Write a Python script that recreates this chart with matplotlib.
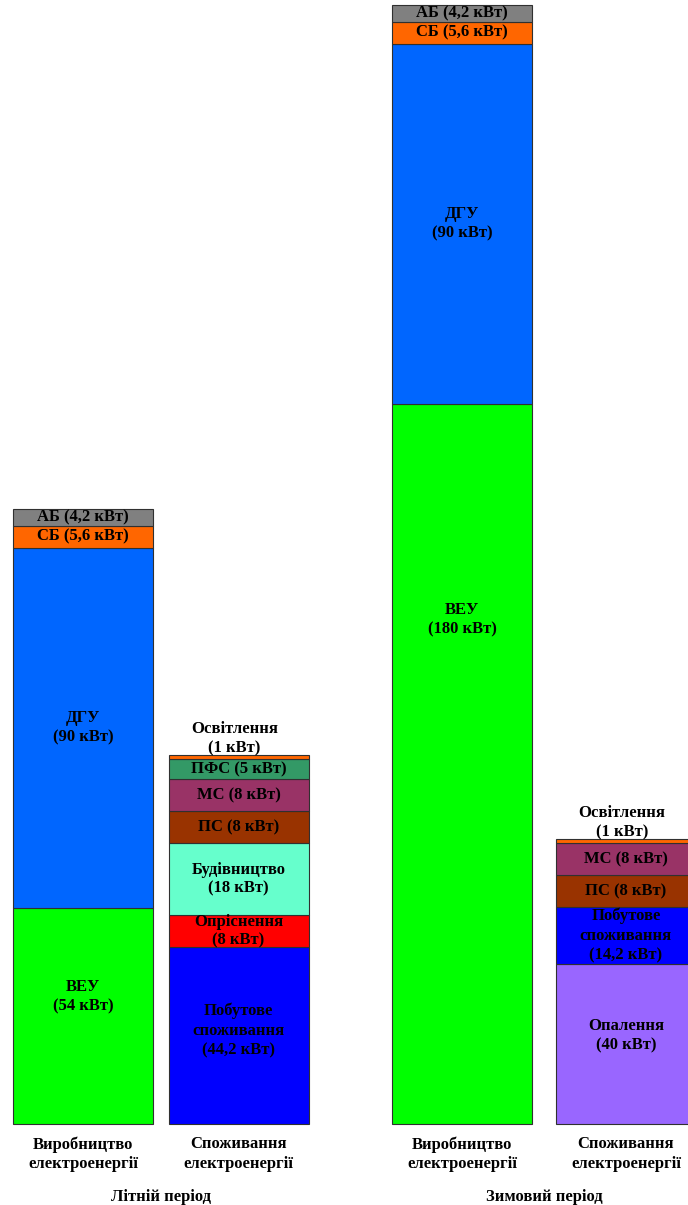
import matplotlib.pyplot as plt

plt.rcParams['font.family'] = ['Liberation Serif', 'DejaVu Serif']

# summer production (kW), bottom to top
summer_prod_names = ['ВЕУ', 'ДГУ', 'СБ', 'АБ']
summer_prod_vals = [54, 90, 5.6, 4.2]
summer_prod_labels = ['ВЕУ\n(54 кВт)', 'ДГУ\n(90 кВт)', 'СБ (5,6 кВт)', 'АБ (4,2 кВт)']

# summer consumption
summer_cons_names = ['Побутове', 'Опріснення', 'Будівництво', 'ПС', 'МС', 'ПФС', 'Освітлення']
summer_cons_vals = [44.2, 8, 18, 8, 8, 5, 1]
summer_cons_labels = ['Побутове\nспоживання\n(44,2 кВт)', 'Опріснення\n(8 кВт)',
                      'Будівництво\n(18 кВт)', 'ПС (8 кВт)', 'МС (8 кВт)',
                      'ПФС (5 кВт)', 'Освітлення\n(1 кВт)']

# winter production
winter_prod_names = ['ВЕУ', 'ДГУ', 'СБ', 'АБ']
winter_prod_vals = [180, 90, 5.6, 4.2]
winter_prod_labels = ['ВЕУ\n(180 кВт)', 'ДГУ\n(90 кВт)', 'СБ (5,6 кВт)', 'АБ (4,2 кВт)']

# winter consumption
winter_cons_names = ['Опалення', 'Побутове', 'ПС', 'МС', 'Освітлення']
winter_cons_vals = [40, 14.2, 8, 8, 1]
winter_cons_labels = ['Опалення\n(40 кВт)', 'Побутове\nспоживання\n(14,2 кВт)',
                      'ПС (8 кВт)', 'МС (8 кВт)', 'Освітлення\n(1 кВт)']

bar_labels = ['Виробництво\nелектроенергії', 'Споживання\nелектроенергії',
              'Виробництво\nелектроенергії', 'Споживання\nелектроенергії']
period_labels = ['Літній період', 'Зимовий період']

colors = {
    'ВЕУ': '#00FF00', 'ДГУ': '#0066FF', 'СБ': '#FF6600', 'АБ': '#808080',
    'Побутове': '#0000FF', 'Опріснення': '#FF0000', 'Будівництво': '#66FFCC',
    'ПС': '#993300', 'МС': '#993366', 'ПФС': '#339966', 'Освітлення': '#FF6600',
    'Опалення': '#9966FF',
}
# where the label sits inside a segment (fraction of its height)
label_frac = {('ВЕУ', 0): 0.59, ('ВЕУ', 2): 0.70, ('Побутове', 1): 0.53,
              ('Опалення', 3): 0.55}

fig = plt.figure(figsize=(6.88, 12.05), dpi=100)
ax = fig.add_axes([0, 0, 1, 1])
ax.set_xlim(0, 688)
ax.set_ylim(-20.25, 281)
ax.axis('off')

xpos = [83, 238.5, 462, 626]
width = 140
stacks = [
    (summer_prod_names, summer_prod_vals, summer_prod_labels),
    (summer_cons_names, summer_cons_vals, summer_cons_labels),
    (winter_prod_names, winter_prod_vals, winter_prod_labels),
    (winter_cons_names, winter_cons_vals, winter_cons_labels),
]

fs = 12
ls = 1.28
for i, (names, vals, labels) in enumerate(stacks):
    bottom = 0
    for name, v, lab in zip(names, vals, labels):
        ax.bar(xpos[i], v, width, bottom=bottom, color=colors[name],
               edgecolor='#303030', linewidth=0.8)
        if name == 'Освітлення':
            ax.text(xpos[i] - 4, bottom + v - 0.4, lab, ha='center', va='bottom',
                    fontsize=fs, fontweight='bold', linespacing=ls)
        else:
            f = label_frac.get((name, i), 0.5)
            ax.text(xpos[i], bottom + v * f, lab, ha='center', va='center',
                    fontsize=fs, fontweight='bold', linespacing=ls)
        bottom += v
    ax.text(xpos[i], -3.1, bar_labels[i], ha='center', va='top',
            fontsize=fs, fontweight='bold', linespacing=ls)

ax.text((xpos[0] + xpos[1]) / 2, -18.3, period_labels[0], ha='center', va='center',
        fontsize=fs, fontweight='bold')
ax.text((xpos[2] + xpos[3]) / 2, -18.3, period_labels[1], ha='center', va='center',
        fontsize=fs, fontweight='bold')

plt.savefig('out.png', dpi=100)
